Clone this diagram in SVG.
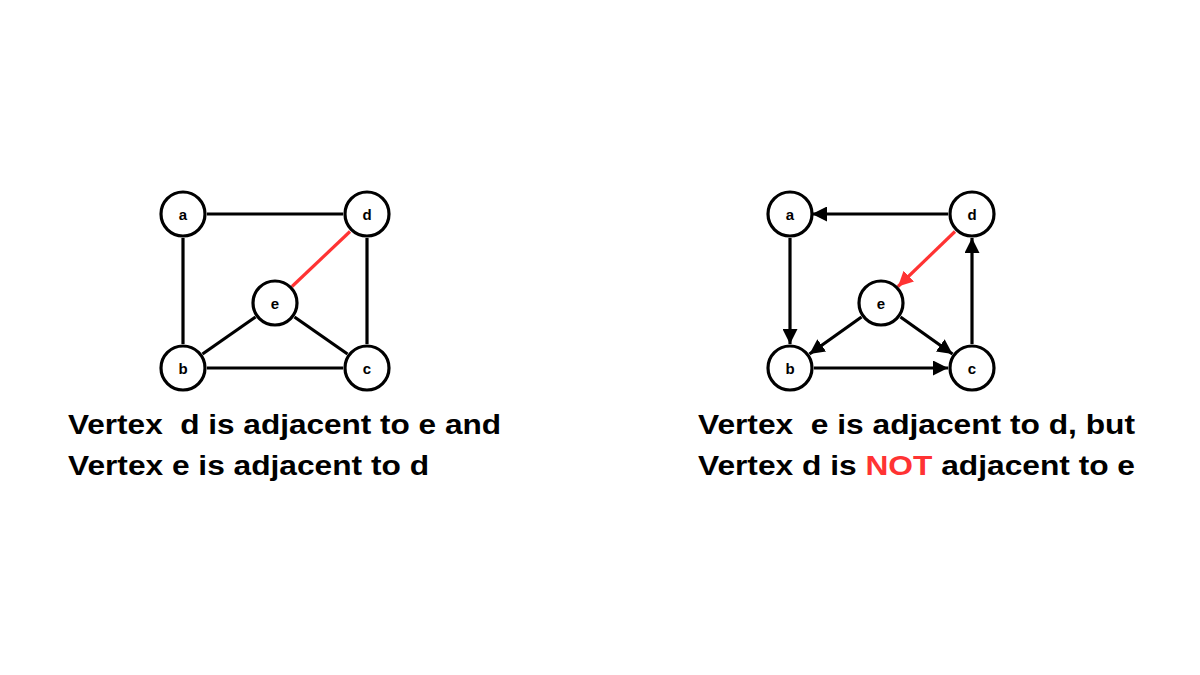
<svg xmlns="http://www.w3.org/2000/svg" width="1200" height="675" viewBox="0 0 1200 675">
<defs>
<style>
.node circle{fill:#fff;stroke:#000;stroke-width:3.2}
.node text{font-family:"Liberation Sans",Arial,sans-serif;font-weight:bold;font-size:15px;text-anchor:middle;dominant-baseline:central;fill:#000}
.e{stroke:#000;stroke-width:3.2;fill:none}
.r{stroke:#ff3333}
.cap{font-family:"Liberation Sans",Arial,sans-serif;font-weight:bold;font-size:28px;fill:#000}
</style>
<marker id="ah" viewBox="0 0 10 10" refX="10" refY="5" markerWidth="15" markerHeight="15" markerUnits="userSpaceOnUse" orient="auto"><path d="M0,0 L10,5 L0,10 z" fill="#000"/></marker>
<marker id="ahr" viewBox="0 0 10 10" refX="10" refY="5" markerWidth="15" markerHeight="15" markerUnits="userSpaceOnUse" orient="auto"><path d="M0,0 L10,5 L0,10 z" fill="#ff3333"/></marker>
</defs>
<rect width="1200" height="675" fill="#fff"/>
<g id="connectors">
<line class="e" x1="207" y1="214" x2="343" y2="214"/>
<line class="e" x1="183" y1="238" x2="183" y2="344"/>
<line class="e" x1="367" y1="238" x2="367" y2="344"/>
<line class="e" x1="207" y1="368" x2="343" y2="368"/>
<line class="e r" x1="350" y1="231.5" x2="292" y2="286.5"/>
<line class="e" x1="255.5" y1="317" x2="202.5" y2="354"/>
<line class="e" x1="294.5" y1="317" x2="347.5" y2="354"/>
<line class="e" x1="948" y1="214" x2="812" y2="214" marker-end="url(#ah)"/>
<line class="e" x1="790" y1="238" x2="790" y2="344" marker-end="url(#ah)"/>
<line class="e" x1="814" y1="368" x2="948" y2="368" marker-end="url(#ah)"/>
<line class="e" x1="972" y1="344" x2="972" y2="238" marker-end="url(#ah)"/>
<line class="e r" x1="955" y1="231.5" x2="898" y2="286.5" marker-end="url(#ahr)"/>
<line class="e" x1="861.5" y1="317" x2="809.5" y2="354" marker-end="url(#ah)"/>
<line class="e" x1="900.5" y1="317" x2="952.5" y2="354" marker-end="url(#ah)"/>
</g>
<g id="L-a" class="node"><circle cx="183" cy="214" r="22"/><text x="183" y="214">a</text></g>
<g id="L-d" class="node"><circle cx="367" cy="214" r="22"/><text x="367" y="214">d</text></g>
<g id="L-e" class="node"><circle cx="275" cy="303" r="22"/><text x="275" y="303">e</text></g>
<g id="L-b" class="node"><circle cx="183" cy="368" r="22"/><text x="183" y="368">b</text></g>
<g id="L-c" class="node"><circle cx="367" cy="368" r="22"/><text x="367" y="368">c</text></g>
<g id="R-a" class="node"><circle cx="790" cy="214" r="22"/><text x="790" y="214">a</text></g>
<g id="R-d" class="node"><circle cx="972" cy="214" r="22"/><text x="972" y="214">d</text></g>
<g id="R-e" class="node"><circle cx="881" cy="303" r="22"/><text x="881" y="303">e</text></g>
<g id="R-b" class="node"><circle cx="790" cy="368" r="22"/><text x="790" y="368">b</text></g>
<g id="R-c" class="node"><circle cx="972" cy="368" r="22"/><text x="972" y="368">c</text></g>
<g id="captions">
<text class="cap" x="68" y="434" xml:space="preserve" textLength="433" lengthAdjust="spacingAndGlyphs">Vertex  d is adjacent to e and</text>
<text class="cap" x="68" y="475" textLength="361" lengthAdjust="spacingAndGlyphs">Vertex e is adjacent to d</text>
<text class="cap" x="698" y="434" xml:space="preserve" textLength="437" lengthAdjust="spacingAndGlyphs">Vertex  e is adjacent to d, but</text>
<text class="cap" x="698" y="475" textLength="437" lengthAdjust="spacingAndGlyphs">Vertex d is <tspan fill="#ff3333">NOT</tspan> adjacent to e</text>
</g>
</svg>
